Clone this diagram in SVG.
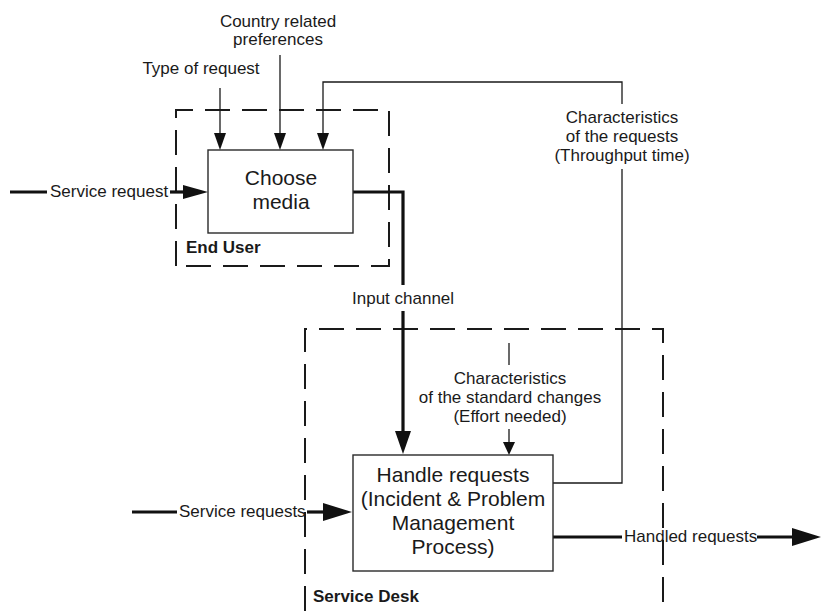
<svg xmlns="http://www.w3.org/2000/svg" width="821" height="611" viewBox="0 0 821 611">
  <style>
    text { font-family: "Liberation Sans", Arial, sans-serif; fill: #1a1a1a; }
    .lbl { font-size: 17px; }
    .ctr { text-anchor: middle; }
    .box-text { font-size: 21px; text-anchor: middle; }
    .zone-name { font-size: 17px; font-weight: bold; }
    .box { fill: #ffffff; stroke: #2a2a2a; stroke-width: 1.4; }
    .zone { fill: none; stroke: #1a1a1a; stroke-width: 2; stroke-dasharray: 25 12; }
    .thin { fill: none; stroke: #1a1a1a; stroke-width: 1.3; }
    .thick { fill: none; stroke: #111111; stroke-width: 3.2; }
  </style>
  <defs>
    <marker id="arrS" markerUnits="userSpaceOnUse" markerWidth="20" markerHeight="14" viewBox="0 -7 17 14" refX="0" refY="0" orient="auto">
      <path d="M0,-6 L17,0 L0,6 z" fill="#111"/>
    </marker>
    <marker id="arrXS" markerUnits="userSpaceOnUse" markerWidth="16" markerHeight="14" viewBox="0 -7 13 14" refX="0" refY="0" orient="auto">
      <path d="M0,-6 L13,0 L0,6 z" fill="#111"/>
    </marker>
    <marker id="arrM" markerUnits="userSpaceOnUse" markerWidth="26" markerHeight="16" viewBox="0 -8 25 16" refX="0" refY="0" orient="auto">
      <path d="M0,-7 L25,0 L0,7 z" fill="#111"/>
    </marker>
    <marker id="arrB" markerUnits="userSpaceOnUse" markerWidth="24" markerHeight="18" viewBox="0 -9 23 18" refX="0" refY="0" orient="auto">
      <path d="M0,-8 L23,0 L0,8 z" fill="#111"/>
    </marker>
    <marker id="arrL" markerUnits="userSpaceOnUse" markerWidth="30" markerHeight="20" viewBox="0 -10 29 20" refX="0" refY="0" orient="auto">
      <path d="M0,-9 L29,0 L0,9 z" fill="#111"/>
    </marker>
  </defs>

  <rect width="821" height="611" fill="#ffffff"/>

  <!-- organisational zones -->
  <g id="zone-end-user">
    <path class="zone" d="M176,266 V110 H389 V266 Z"/>
    <text class="zone-name" x="186" y="253">End User</text>
  </g>
  <g id="zone-service-desk">
    <path class="zone" d="M305,611 V329 H663 V611"/>
    <text class="zone-name" x="313" y="602">Service Desk</text>
  </g>

  <!-- connectors -->
  <g id="connectors">
    <path class="thin" d="M220,88 V133" marker-end="url(#arrS)"/>
    <path class="thin" d="M280,55 V133" marker-end="url(#arrS)"/>
    <path class="thin" d="M553,483 H622 V169"/>
    <path class="thin" d="M622,104 V82 H323 V133" marker-end="url(#arrS)"/>
    <path class="thick" d="M10,192 H47"/>
    <path class="thick" d="M170,192 H183" marker-end="url(#arrM)"/>
    <path class="thick" d="M353,192 H403 V285"/>
    <path class="thick" d="M403,311 V431" marker-end="url(#arrB)"/>
    <path class="thin" d="M509,343 V365"/>
    <path class="thin" d="M509,429 V442" marker-end="url(#arrXS)"/>
    <path class="thick" d="M132,512 H177"/>
    <path class="thick" d="M307,512 H323" marker-end="url(#arrL)"/>
    <path class="thick" d="M553,537 H622"/>
    <path class="thick" d="M757,537 H792" marker-end="url(#arrL)"/>
  </g>

  <!-- connector labels -->
  <g id="labels">
    <text class="lbl ctr" x="278" y="27">Country related</text>
    <text class="lbl ctr" x="278" y="45">preferences</text>
    <text class="lbl ctr" x="201" y="74">Type of request</text>
    <text class="lbl ctr" x="622" y="123">Characteristics</text>
    <text class="lbl ctr" x="622" y="142">of the requests</text>
    <text class="lbl ctr" x="622" y="161">(Throughput time)</text>
    <text class="lbl" x="50" y="197">Service request</text>
    <text class="lbl" x="352" y="304">Input channel</text>
    <text class="lbl ctr" x="510" y="384">Characteristics</text>
    <text class="lbl ctr" x="510" y="403">of the standard changes</text>
    <text class="lbl ctr" x="510" y="422">(Effort needed)</text>
    <text class="lbl" x="179" y="517">Service requests</text>
    <text class="lbl" x="624" y="542">Handled requests</text>
  </g>

  <!-- activities -->
  <g id="choose-media">
    <rect class="box" x="208" y="150" width="145" height="83"/>
    <text class="box-text" x="281" y="185">Choose</text>
    <text class="box-text" x="281" y="209">media</text>
  </g>
  <g id="handle-requests">
    <rect class="box" x="353" y="455" width="200" height="116"/>
    <text class="box-text" x="453" y="482">Handle requests</text>
    <text class="box-text" x="453" y="506">(Incident &amp; Problem</text>
    <text class="box-text" x="453" y="530">Management</text>
    <text class="box-text" x="453" y="554">Process)</text>
  </g>
</svg>
